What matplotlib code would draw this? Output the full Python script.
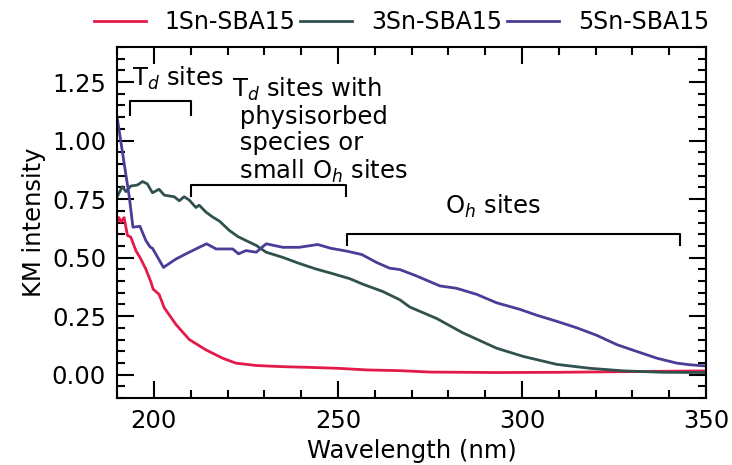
import matplotlib
matplotlib.use("Agg")
import matplotlib.pyplot as plt
from matplotlib.ticker import MultipleLocator, FormatStrFormatter

# Kubelka-Munk spectra of Sn-SBA15 samples
wl_1sn = [190.0, 190.5, 191.0, 191.9, 192.8, 193.7, 195.1, 196.4, 197.8, 199.2,
          199.8, 201.4, 202.8, 206.0, 209.6, 214.1, 218.7, 222.3, 227.8, 235.0,
          242.3, 250.0, 258.0, 266.8, 275.0, 293.0, 310.0, 330.0, 350.0]
km_1sn = [0.655, 0.671, 0.652, 0.671, 0.595, 0.588, 0.530, 0.495, 0.451, 0.395,
          0.365, 0.343, 0.286, 0.214, 0.150, 0.106, 0.070, 0.049, 0.039, 0.034,
          0.031, 0.027, 0.020, 0.017, 0.011, 0.009, 0.010, 0.013, 0.016]

wl_3sn = [190.0, 191.4, 192.4, 193.7, 195.5, 196.9, 198.2, 199.6, 201.4, 202.8,
          205.5, 206.9, 208.2, 209.6, 211.4, 212.3, 214.1, 215.9, 217.8, 220.5,
          222.8, 225.0, 227.8, 230.5, 235.0, 239.5, 244.1, 248.0, 253.2, 257.0,
          262.2, 266.8, 269.5, 276.8, 284.0, 293.1, 300.3, 309.4, 318.5, 327.6,
          338.5, 350.0]
km_3sn = [0.760, 0.803, 0.782, 0.806, 0.810, 0.825, 0.815, 0.777, 0.792, 0.767,
          0.760, 0.743, 0.760, 0.746, 0.714, 0.724, 0.695, 0.674, 0.656, 0.616,
          0.590, 0.573, 0.552, 0.523, 0.501, 0.475, 0.451, 0.434, 0.410, 0.385,
          0.355, 0.320, 0.289, 0.240, 0.178, 0.113, 0.078, 0.044, 0.027, 0.016,
          0.010, 0.009]

wl_5sn = [190.0, 193.3, 194.3, 196.2, 197.8, 199.0, 199.6, 202.6, 203.7, 206.0,
          208.7, 210.5, 212.3, 214.3, 216.9, 219.6, 221.4, 223.0, 225.0, 227.8,
          230.5, 235.0, 239.5, 244.5, 248.0, 252.3, 256.5, 260.4, 264.0, 266.8,
          271.3, 277.7, 282.2, 287.7, 293.1, 299.4, 304.0, 309.4, 314.9, 320.3,
          325.8, 331.2, 336.7, 342.1, 345.7, 350.0]
km_5sn = [1.100, 0.760, 0.630, 0.634, 0.573, 0.545, 0.540, 0.458, 0.470, 0.494,
          0.516, 0.530, 0.544, 0.559, 0.537, 0.537, 0.537, 0.516, 0.530, 0.523,
          0.559, 0.544, 0.544, 0.556, 0.540, 0.528, 0.513, 0.480, 0.455, 0.449,
          0.422, 0.379, 0.369, 0.343, 0.307, 0.279, 0.254, 0.228, 0.200, 0.168,
          0.128, 0.099, 0.070, 0.049, 0.042, 0.037]

# site-assignment brackets: (start, end, top, foot)
brackets = [(193.5, 210.0, 1.17, 1.11),
            (210.0, 252.3, 0.81, 0.763),
            (252.5, 342.8, 0.602, 0.552)]

plt.rcParams["font.family"] = "DejaVu Sans"
plt.rcParams["font.size"] = 17.5
plt.rcParams["mathtext.default"] = "it"

fig = plt.figure(figsize=(7.32, 4.65), dpi=100)
ax = fig.add_axes([0.16, 0.144, 0.8045, 0.755])

ax.plot(wl_1sn, km_1sn, color="#e31a4a", lw=2.0, label="1Sn-SBA15")
ax.plot(wl_3sn, km_3sn, color="#2f524e", lw=2.0, label="3Sn-SBA15")
ax.plot(wl_5sn, km_5sn, color="#4b3c97", lw=2.0, label="5Sn-SBA15")

for x0, x1, top, foot in brackets:
    ax.plot([x0, x0, x1, x1], [foot, top, top, foot], color="black", lw=1.5)

ax.text(206.6, 1.235, r"T$_d$ sites", ha="center", va="baseline")
ax.text(221.3, 1.275,
        "T$_d$ sites with\n physisorbed\n species or\n small O$_h$ sites",
        ha="left", va="top", linespacing=1.1)
ax.text(292.1, 0.688, r"O$_h$ sites", ha="center", va="baseline")

ax.set_xlim(190, 350)
ax.set_ylim(-0.1, 1.4)
ax.xaxis.set_major_locator(MultipleLocator(50))
ax.xaxis.set_minor_locator(MultipleLocator(10))
ax.yaxis.set_major_locator(MultipleLocator(0.25))
ax.yaxis.set_minor_locator(MultipleLocator(0.05))
ax.yaxis.set_major_formatter(FormatStrFormatter("%.2f"))
ax.tick_params(which="both", direction="in", top=True, right=True, width=1.5)
ax.tick_params(which="major", length=12, pad=8)
ax.tick_params(which="minor", length=6)
for sp in ax.spines.values():
    sp.set_linewidth(1.5)

ax.set_xlabel("Wavelength (nm)")
ax.set_ylabel("KM intensity")

ax.legend(loc="lower center", bbox_to_anchor=(0.483, 1.01), ncol=3,
          frameon=False, fontsize=17, handlelength=2.2, handletextpad=0.8,
          columnspacing=0.2, borderaxespad=0.0)

fig.savefig("out.png", dpi=100)
